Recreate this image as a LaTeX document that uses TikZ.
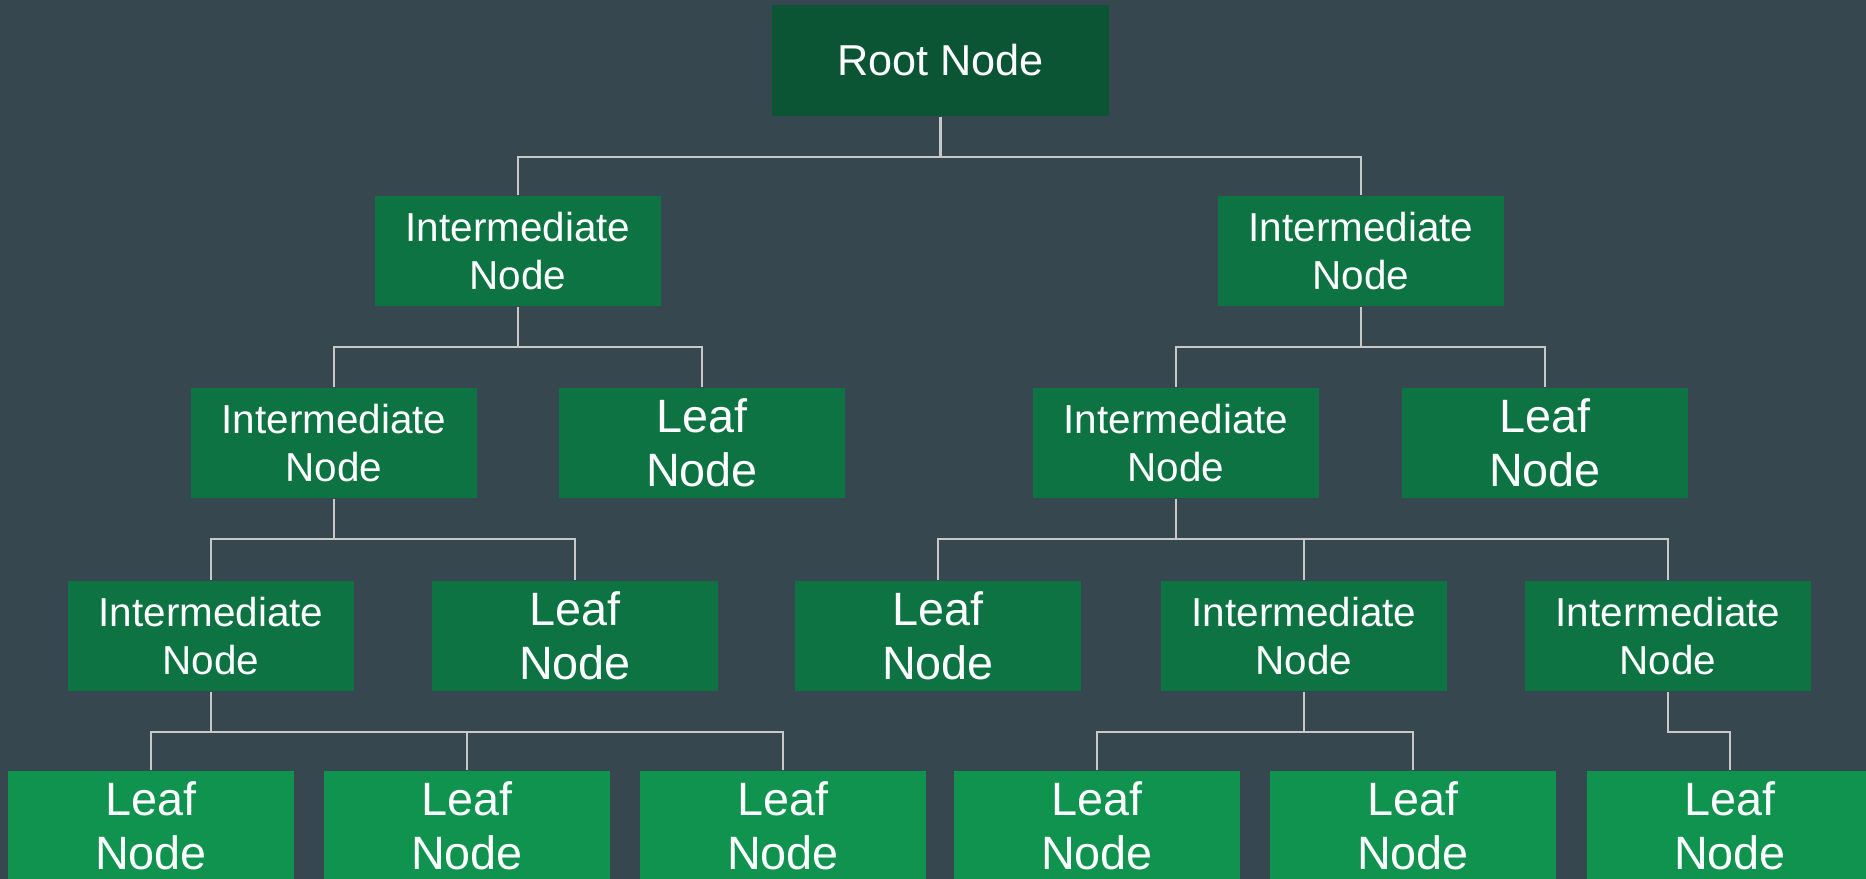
\documentclass[tikz,border=0pt]{standalone}
\usepackage{xcolor}
\usepackage{fontspec}
\setmainfont{Liberation Sans}

\definecolor{slatebg}{HTML}{37474F}
\definecolor{rootgreen}{HTML}{0B5534}
\definecolor{midgreen}{HTML}{0D7342}
\definecolor{leafgreen}{HTML}{0F934F}
\definecolor{linkgray}{HTML}{C8C8C8}

\begin{document}
\begin{tikzpicture} [x=0.01cm, y=-0.01cm,
    box/.style={ fill, text=white, align=center, inner sep=0pt, minimum width=2.85cm, minimum height=1.1cm },
    inode/.style={ box, fill=midgreen, font=\fontsize{11.5}{13.7}\selectfont },
    lnode/.style={ box, fill=midgreen, font=\fontsize{13.3}{15.2}\selectfont },
    bottom/.style={ lnode, fill=leafgreen },
    link/.style={ draw=linkgray, line width=0.6pt } ]
    \fill[slatebg] (0,0) rectangle (1866,879);
    \useasboundingbox (0,0) rectangle (1866,879);

    \node [box, fill=rootgreen, minimum width=3.37cm, minimum height=1.11cm, font=\fontsize{12.3}{14}\selectfont] (root) at (940.5,60.5) {Root Node};

    \node [inode] (i1) at (518,251) {Intermediate\\Node};
    \node [inode] (i2) at (1361,251) {Intermediate\\Node};

    \node [inode] (i11) at (334,443) {Intermediate\\Node};
    \node [lnode] (l12) at (702,443) {Leaf\\Node};
    \node [inode] (i21) at (1176,443) {Intermediate\\Node};
    \node [lnode] (l22) at (1545,443) {Leaf\\Node};

    \node [inode] (i111) at (211,636) {Intermediate\\Node};
    \node [lnode] (l112) at (575,636) {Leaf\\Node};
    \node [lnode] (l211) at (938,636) {Leaf\\Node};
    \node [inode] (i212) at (1304,636) {Intermediate\\Node};
    \node [inode] (i213) at (1668,636) {Intermediate\\Node};

    \node [bottom] (b1) at (151,826) {Leaf\\Node};
    \node [bottom] (b2) at (467,826) {Leaf\\Node};
    \node [bottom] (b3) at (783,826) {Leaf\\Node};
    \node [bottom] (b4) at (1097,826) {Leaf\\Node};
    \node [bottom] (b5) at (1413,826) {Leaf\\Node};
    \node [bottom] (b6) at (1730,826) {Leaf\\Node};

    \foreach \From/\To in {root/i1, root/i2, i1/i11, i1/l12, i2/i21, i2/l22,
        i11/i111, i11/l112, i21/l211, i21/i212, i21/i213,
        i111/b1, i111/b2, i111/b3, i212/b4, i212/b5, i213/b6}{
        \draw [link] (\From.south) -- ++(0,40) -| (\To.north);
    }
\end{tikzpicture}
\end{document}
